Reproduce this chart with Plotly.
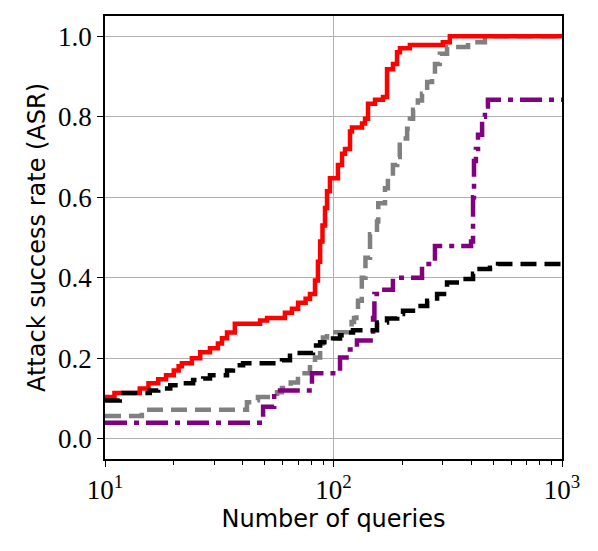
import plotly.graph_objects as go

# step points (queries, ASR)
red_x = [10, 11.0, 14.2, 15.5, 17.1, 18.5, 20.0, 21.0, 21.7, 24.0, 26.1, 28.8, 31.2, 32.5,
         34.2, 37.0, 47.7, 51.2, 61.3, 65.8, 70.0, 75.5, 78.9, 83.0, 85.5, 87.4, 89.5,
         91.8, 93.7, 96.5, 104.6, 109, 112.3, 118.1, 120.5, 133.3, 137.4, 141.6, 152,
         164.7, 171.5, 182.1, 189.7, 195.4, 216, 301, 323, 1000]
red_y = [0.104, 0.114, 0.125, 0.138, 0.148, 0.158, 0.170, 0.180, 0.188, 0.200, 0.215, 0.225,
         0.237, 0.250, 0.264, 0.286, 0.294, 0.300, 0.313, 0.323, 0.338, 0.348, 0.360, 0.393,
         0.440, 0.490, 0.530, 0.573, 0.615, 0.647, 0.680, 0.708, 0.720, 0.763, 0.773, 0.783,
         0.795, 0.832, 0.842, 0.849, 0.918, 0.931, 0.960, 0.970, 0.978, 0.985, 1.0, 1.0]

gray_x = [10, 14.5, 41.8, 44.4, 46.7, 56.6, 59.5, 65, 69.9, 72.8, 78.9, 83, 87.4, 89.9, 93.7,
          115, 120, 123, 126, 128, 133, 138, 144.5, 155, 157, 168, 173, 182, 190, 195, 201,
          210, 216, 223, 234, 244, 257, 270, 278, 292, 314, 388, 460, 1000]
gray_y = [0.057, 0.072, 0.091, 0.096, 0.104, 0.116, 0.126, 0.140, 0.158, 0.163, 0.178, 0.202,
          0.237, 0.252, 0.265, 0.277, 0.290, 0.300, 0.320, 0.343, 0.400, 0.450, 0.508, 0.540,
          0.585, 0.622, 0.652, 0.680, 0.700, 0.730, 0.746, 0.770, 0.795, 0.817, 0.840, 0.857,
          0.886, 0.906, 0.931, 0.956, 0.973, 0.985, 1.0, 1.0]

purple_x = [10, 49.2, 55, 80.5, 106.8, 118, 126.7, 149, 151, 160, 182, 244, 270, 278, 400,
            408, 412, 420, 429, 447, 460, 474, 1000]
purple_y = [0.04, 0.08, 0.12, 0.163, 0.202, 0.222, 0.244, 0.30, 0.36, 0.37, 0.40, 0.434, 0.44,
            0.479, 0.49, 0.60, 0.69, 0.72, 0.755, 0.80, 0.825, 0.842, 0.842]

black_x = [10, 11.6, 15.7, 17.1, 19.3, 21.9, 24.3, 26.9, 28.8, 34.2, 36.3, 40.2, 59.5, 64.5,
           81.3, 87.4, 99.5, 106.8, 114.6, 121.7, 155, 171.5, 190, 201.5, 234, 257, 284, 314,
           369, 408, 425, 484, 525, 1000]
black_y = [0.095, 0.114, 0.120, 0.125, 0.133, 0.138, 0.146, 0.150, 0.158, 0.170, 0.183, 0.188,
           0.195, 0.213, 0.232, 0.240, 0.249, 0.257, 0.264, 0.270, 0.289, 0.299, 0.310, 0.318,
           0.330, 0.343, 0.360, 0.388, 0.397, 0.410, 0.422, 0.425, 0.434, 0.434]

x_ticks = [10, 100, 1000]
x_ticktext = ['10<sup>1</sup>', '10<sup>2</sup>', '10<sup>3</sup>']
y_ticks = [0.0, 0.2, 0.4, 0.6, 0.8, 1.0]
minor_ticks = [m * d for d in (10, 100) for m in range(2, 10)]

fig = go.Figure()
series = [
    (gray_x, gray_y, 'gray', '16px,8px'),
    (red_x, red_y, 'red', 'solid'),
    (purple_x, purple_y, 'purple', '22px,7px,5px,7px'),
    (black_x, black_y, 'black', '16px,8px'),
]
for xs, ys, col, dash in series:
    fig.add_trace(go.Scatter(x=xs, y=ys, mode='lines', line_shape='hv',
                             line=dict(color=col, width=4.5, dash=dash), showlegend=False))

# page body has an 8px margin, so the figure is 8px smaller and margins are shifted
fig.update_layout(
    width=590, height=543,
    margin=dict(l=97, r=36, t=6, b=92),
    plot_bgcolor='white', paper_bgcolor='white',
    xaxis=dict(
        type='log', range=[1, 3],
        tickvals=x_ticks, ticktext=x_ticktext,
        ticks='outside', ticklen=6, tickwidth=1.3, tickcolor='black',
        minor=dict(tickvals=minor_ticks, ticks='outside', ticklen=4, tickcolor='black', showgrid=False),
        showgrid=True, gridcolor='#b0b0b0', gridwidth=1,
        showline=True, linecolor='black', linewidth=1.5, mirror=True,
        tickfont=dict(family='Liberation Serif', size=27, color='black'),
        title=dict(text='Number of queries', standoff=4,
                   font=dict(family='DejaVu Sans', size=24, color='black')),
        zeroline=False,
    ),
    yaxis=dict(
        range=[-0.05, 1.05],
        tickvals=y_ticks, tickformat='.1f',
        ticks='outside', ticklen=6, tickwidth=1.3, tickcolor='black',
        showgrid=True, gridcolor='#b0b0b0', gridwidth=1,
        showline=True, linecolor='black', linewidth=1.5, mirror=True,
        tickfont=dict(family='Liberation Serif', size=27, color='black'),
        title=dict(text='Attack success rate (ASR)', standoff=6,
                   font=dict(family='DejaVu Sans', size=24, color='black')),
        zeroline=False,
    ),
)

fig.write_html("out.html")
